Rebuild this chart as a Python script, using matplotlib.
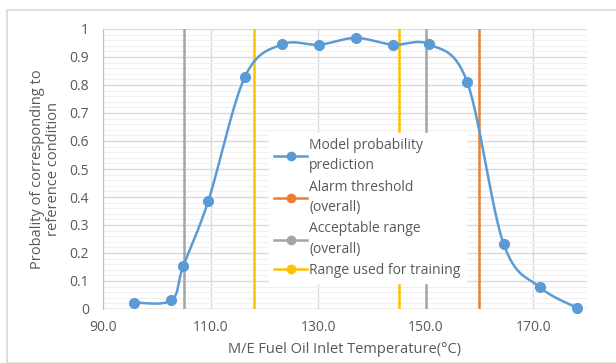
import numpy as np
import matplotlib.pyplot as plt
from matplotlib.patches import Rectangle
from matplotlib.lines import Line2D

# datos
temp = [95.8, 102.7, 104.9, 109.6, 116.4, 123.3, 130.2, 137.0, 143.9, 150.7, 157.7, 164.5, 171.3, 178.1]
prob = [0.023, 0.031, 0.152, 0.387, 0.830, 0.945, 0.944, 0.968, 0.944, 0.945, 0.812, 0.232, 0.077, 0.005]
alarm = [160.0]
acceptable = [105.0, 150.0]
training = [118.0, 145.0]
legend_labels = ["Model probability\nprediction", "Alarm threshold\n(overall)",
                 "Acceptable range\n(overall)", "Range used for training"]

BLUE = "#5B9BD5"
ORANGE = "#ED7D31"
GRAY = "#A5A5A5"
YELLOW = "#FFC000"
TXT = "#595959"


def smooth(x, y, n=30):
    # curva suavizada tipo Excel (Bezier con puntos de control de Catmull-Rom)
    x = np.asarray(x, float); y = np.asarray(y, float)
    px = np.concatenate([[x[0]], x, [x[-1]]])
    py = np.concatenate([[y[0]], y, [y[-1]]])
    t = np.linspace(0, 1, n)[:, None]
    xs, ys = [], []
    for i in range(1, len(px) - 2):
        p0 = np.array([px[i], py[i]]); p3 = np.array([px[i+1], py[i+1]])
        p1 = p0 + (np.array([px[i+1], py[i+1]]) - np.array([px[i-1], py[i-1]])) / 6
        p2 = p3 - (np.array([px[i+2], py[i+2]]) - np.array([px[i], py[i]])) / 6
        b = (1-t)**3*p0 + 3*(1-t)**2*t*p1 + 3*(1-t)*t**2*p2 + t**3*p3
        xs.append(b[:, 0]); ys.append(b[:, 1])
    return np.concatenate(xs), np.concatenate(ys)


plt.rcParams['font.family'] = ['Open Sans', 'DejaVu Sans']

fig = plt.figure(figsize=(6.16, 3.63), dpi=100)
ax = fig.add_axes([103/616, 1 - 309/363, 484/616, 280/363])

# borde del área del gráfico
fig.patches.append(Rectangle((7/616, 0), 1, 1 - 10/363, transform=fig.transFigure,
                             fill=False, edgecolor="#D9D9D9", lw=1.2, clip_on=False))

ax.set_xlim(90, 180)
ax.set_ylim(0, 1)
ax.set_xticks(np.arange(90, 171, 20))
ax.set_xticklabels([f"{v:.1f}" for v in np.arange(90, 171, 20)])
ax.set_yticks(np.arange(0, 1.01, 0.1))
ax.set_yticklabels(["0"] + [f"{v:.1f}" for v in np.arange(0.1, 0.95, 0.1)] + ["1"])
ax.set_yticks(np.arange(0, 1.0, 0.02), minor=True)
ax.grid(which="major", color="#D9D9D9", lw=1)
ax.grid(which="minor", axis="y", color="#F0F0F0", lw=0.8)
ax.set_axisbelow(True)
ax.tick_params(which="both", length=0, colors=TXT, labelsize=10)
ax.tick_params(axis="x", pad=8)
ax.tick_params(axis="y", pad=10)
for s in ["top", "right", "bottom"]:
    ax.spines[s].set_visible(False)
ax.spines["left"].set_color("#BFBFBF")
ax.axhline(0, color="#BFBFBF", lw=1, zorder=1)

for v in alarm:
    ax.axvline(v, color=ORANGE, lw=1.8, zorder=2)
for v in acceptable:
    ax.axvline(v, color=GRAY, lw=1.8, zorder=2)
for v in training:
    ax.axvline(v, color=YELLOW, lw=1.8, zorder=2)

sx, sy = smooth(temp, prob)
ax.plot(sx, sy, color=BLUE, lw=1.8, zorder=3, clip_on=False)
ax.plot(temp, prob, "o", color=BLUE, ms=7, zorder=4, clip_on=False)

handles = [Line2D([], [], color=c, lw=1.8, marker="o", ms=6) for c in [BLUE, ORANGE, GRAY, YELLOW]]
leg = ax.legend(handles, legend_labels, loc="upper left",
                bbox_to_anchor=((269-103)/484, (309-133)/280),
                frameon=True, fancybox=False, framealpha=1, edgecolor="white",
                fontsize=10, labelcolor=TXT, handlelength=2.4, handletextpad=0.15,
                labelspacing=0.45, borderpad=0.35, borderaxespad=0)
for t in leg.get_texts():
    t.set_linespacing(1.5)
leg.set_zorder(5)

ax.set_xlabel("M/E Fuel Oil Inlet Temperature(°C)", color=TXT, fontsize=10.5, labelpad=5)
ax.set_ylabel("Probality of corresponding to\nreference condition", color=TXT, fontsize=10.5,
              labelpad=6, linespacing=1.1)

fig.savefig("out.png", dpi=100)
